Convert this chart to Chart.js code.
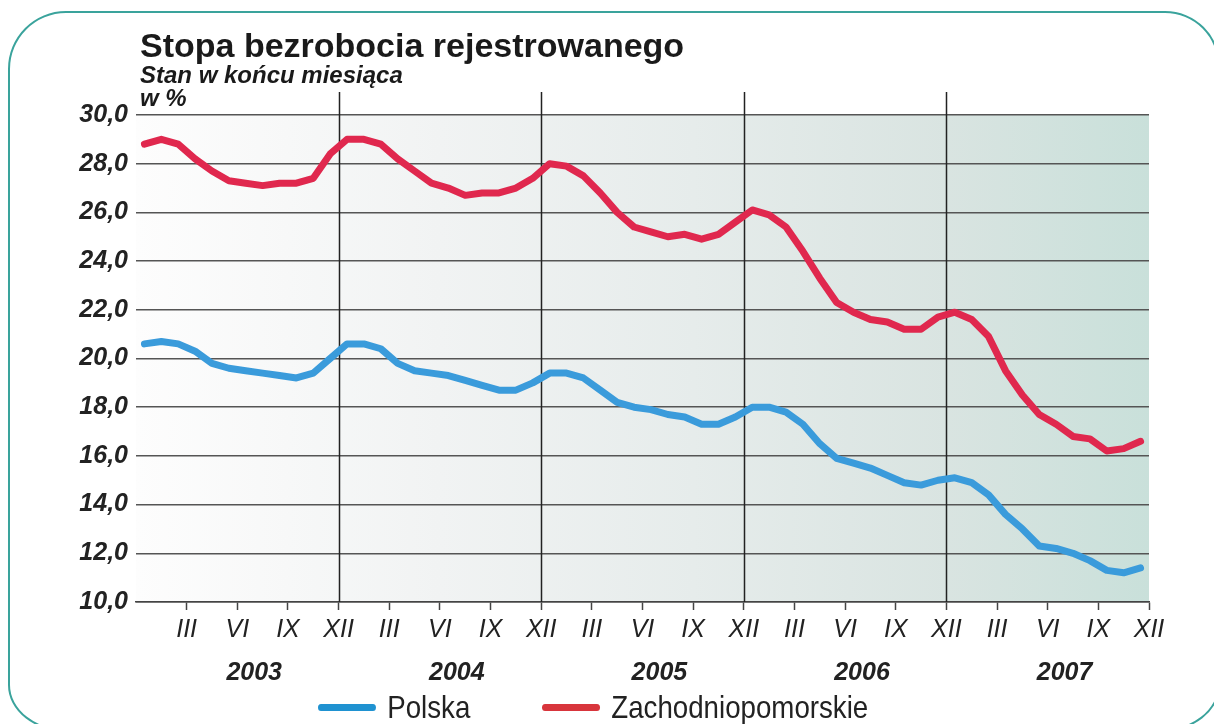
<!DOCTYPE html>
<html lang="pl">
<head>
<meta charset="UTF-8">
<title>Stopa bezrobocia rejestrowanego</title>
<style>
  html, body { margin: 0; padding: 0; background: #fff; overflow: hidden; }
  #wrap { position: relative; width: 1214px; height: 724px; }
  #frame {
    position: absolute; left: 8px; top: 11px; width: 1212px; height: 721px;
    box-sizing: border-box; border: 2px solid #3aa39c;
    border-radius: 58px 55px 60px 60px / 58px 55px 47px 47px;
  }
  #chart { position: absolute; left: 0; top: 0; width: 1214px; height: 724px; }
  .title {
    position: absolute; left: 140px; top: 28px; margin: 0;
    font: bold 34px/34px "Liberation Sans", Arial, sans-serif; color: #1a1a1a;
  }
  .sub {
    position: absolute; left: 140px; top: 63px;
    font: italic bold 24px/23px "Liberation Sans", Arial, sans-serif; color: #1a1a1a;
  }
  /* czcionka zwężona przez skalowanie, brak wersji Narrow */
  #legend {
    position: absolute; left: 318px; top: 691px; display: flex; align-items: center;
    transform: scaleX(0.865); transform-origin: 0 50%;
    font: 32px/32px "Liberation Sans", Arial, sans-serif; color: #222;
  }
  #legend .item { display: flex; align-items: center; margin-right: 83px; }
  #legend .swatch { width: 67px; height: 7px; border-radius: 4px; margin-right: 13px; }
</style>
</head>
<body>
<div id="wrap">
  <div id="frame"></div>
  <div id="chart"><canvas id="c"></canvas></div>
  <h1 class="title">Stopa bezrobocia rejestrowanego</h1>
  <div class="sub">Stan w końcu miesiąca<br>w %</div>
  <div id="legend"></div>
</div>
<script src="https://cdn.jsdelivr.net/npm/chart.js"></script>
<script>
// miesiące na osi (koniec kwartału) i lata
const quarterLabels = ['III', 'VI', 'IX', 'XII'];
const years = ['2003', '2004', '2005', '2006', '2007'];

// stopa bezrobocia, stan w końcu miesiąca, I 2003 - XII 2007
const polska = [
  20.6, 20.7, 20.6, 20.3, 19.8, 19.6, 19.5, 19.4, 19.3, 19.2, 19.4, 20.0,
  20.6, 20.6, 20.4, 19.8, 19.5, 19.4, 19.3, 19.1, 18.9, 18.7, 18.7, 19.0,
  19.4, 19.4, 19.2, 18.7, 18.2, 18.0, 17.9, 17.7, 17.6, 17.3, 17.3, 17.6,
  18.0, 18.0, 17.8, 17.3, 16.5, 15.9, 15.7, 15.5, 15.2, 14.9, 14.8, 15.0,
  15.1, 14.9, 14.4, 13.6, 13.0, 12.3, 12.2, 12.0, 11.7, 11.3, 11.2, 11.4
];
const zachodniopomorskie = [
  28.8, 29.0, 28.8, 28.2, 27.7, 27.3, 27.2, 27.1, 27.2, 27.2, 27.4, 28.4,
  29.0, 29.0, 28.8, 28.2, 27.7, 27.2, 27.0, 26.7, 26.8, 26.8, 27.0, 27.4,
  28.0, 27.9, 27.5, 26.8, 26.0, 25.4, 25.2, 25.0, 25.1, 24.9, 25.1, 25.6,
  26.1, 25.9, 25.4, 24.4, 23.3, 22.3, 21.9, 21.6, 21.5, 21.2, 21.2, 21.7,
  21.9, 21.6, 20.9, 19.5, 18.5, 17.7, 17.3, 16.8, 16.7, 16.2, 16.3, 16.6
];

const yMin = 10, yMax = 30, yStep = 2;
const nMonths = years.length * 12;

const font = '"Liberation Sans", Arial, sans-serif';

const toPoints = arr => arr.map((v, i) => ({ x: i, y: v }));

// tło obszaru wykresu - gradient
const bgPlugin = {
  id: 'bg',
  beforeDraw(chart) {
    const { ctx, chartArea: a } = chart;
    const g = ctx.createLinearGradient(a.left, 0, a.right, 0);
    g.addColorStop(0, '#fdfdfd');
    g.addColorStop(0.3, '#f1f3f3');
    g.addColorStop(0.55, '#e6eceb');
    g.addColorStop(0.8, '#d9e4e1');
    g.addColorStop(1, '#c9e0da');
    ctx.save();
    ctx.fillStyle = g;
    ctx.fillRect(a.left, a.top, a.width, a.height);
    ctx.restore();
  }
};

// pionowe linie na przełomie lat
const yearLines = {
  id: 'yearLines',
  beforeDatasetsDraw(chart) {
    const { ctx, chartArea: a, scales } = chart;
    ctx.save();
    ctx.strokeStyle = '#222';
    ctx.lineWidth = 1.5;
    for (let i = 1; i < years.length; i++) {
      const px = Math.round(scales.x.getPixelForValue(i * 12 - 0.5)) + 0.5;
      ctx.beginPath();
      ctx.moveTo(px, a.top - 23);
      ctx.lineTo(px, a.bottom);
      ctx.stroke();
    }
    ctx.restore();
  }
};

const chart = new Chart(document.getElementById('c'), {
  type: 'line',
  data: {
    datasets: [
      {
        label: 'Polska',
        data: toPoints(polska),
        borderColor: '#3a9bdb',
        legendColor: '#1f92d1',
        borderWidth: 7,
        pointRadius: 0,
        borderJoinStyle: 'round',
        borderCapStyle: 'round',
        tension: 0
      },
      {
        label: 'Zachodniopomorskie',
        data: toPoints(zachodniopomorskie),
        borderColor: '#e0284e',
        legendColor: '#d8353c',
        borderWidth: 7,
        pointRadius: 0,
        borderJoinStyle: 'round',
        borderCapStyle: 'round',
        tension: 0
      }
    ]
  },
  options: {
    responsive: true,
    maintainAspectRatio: false,
    animation: false,
    layout: { padding: { top: 115, right: 65, left: 0, bottom: 0 } },
    plugins: {
      legend: { display: false },
      tooltip: { enabled: false }
    },
    scales: {
      x: {
        type: 'linear',
        min: -0.5,
        max: nMonths - 0.5,
        afterBuildTicks(axis) {
          const t = [];
          for (let m = 2.5; m < nMonths; m += 3) t.push({ value: m });
          axis.ticks = t;
        },
        afterFit(axis) { axis.height = 44; },
        grid: {
          drawOnChartArea: false,
          drawTicks: true,
          tickLength: 8,
          tickColor: '#444',
          tickWidth: 1.5
        },
        border: { display: true, color: '#444', width: 1.5 },
        ticks: {
          autoSkip: false,
          maxRotation: 0,
          padding: 5,
          color: '#222',
          font: { family: font, size: 25, style: 'italic' },
          callback: (v, i) => quarterLabels[i % 4]
        }
      },
      x2: {
        type: 'linear',
        position: 'bottom',
        min: -0.5,
        max: nMonths - 0.5,
        afterBuildTicks(axis) {
          axis.ticks = years.map((y, i) => ({ value: i * 12 + 6.5 }));
        },
        afterFit(axis) { axis.height = 78; },
        grid: { display: false, drawTicks: false },
        border: { display: false },
        ticks: {
          autoSkip: false,
          maxRotation: 0,
          padding: 12,
          color: '#222',
          font: { family: font, size: 25, style: 'italic', weight: 'bold' },
          callback: (v, i) => years[i]
        }
      },
      y: {
        min: yMin,
        max: yMax,
        afterFit(axis) { axis.width = 136; },
        ticks: {
          stepSize: yStep,
          padding: 8,
          color: '#222',
          font: { family: font, size: 25, style: 'italic', weight: 'bold' },
          callback: v => v.toFixed(1).replace('.', ',')
        },
        grid: { color: '#555', lineWidth: 1.5, drawTicks: false },
        border: { display: false }
      }
    }
  },
  plugins: [bgPlugin, yearLines]
});

// legenda pod wykresem
const legend = document.getElementById('legend');
chart.data.datasets.forEach(ds => {
  const item = document.createElement('div');
  item.className = 'item';
  const sw = document.createElement('span');
  sw.className = 'swatch';
  sw.style.background = ds.legendColor;
  const txt = document.createElement('span');
  txt.textContent = ds.label;
  item.appendChild(sw);
  item.appendChild(txt);
  legend.appendChild(item);
});
</script>
</body>
</html>
